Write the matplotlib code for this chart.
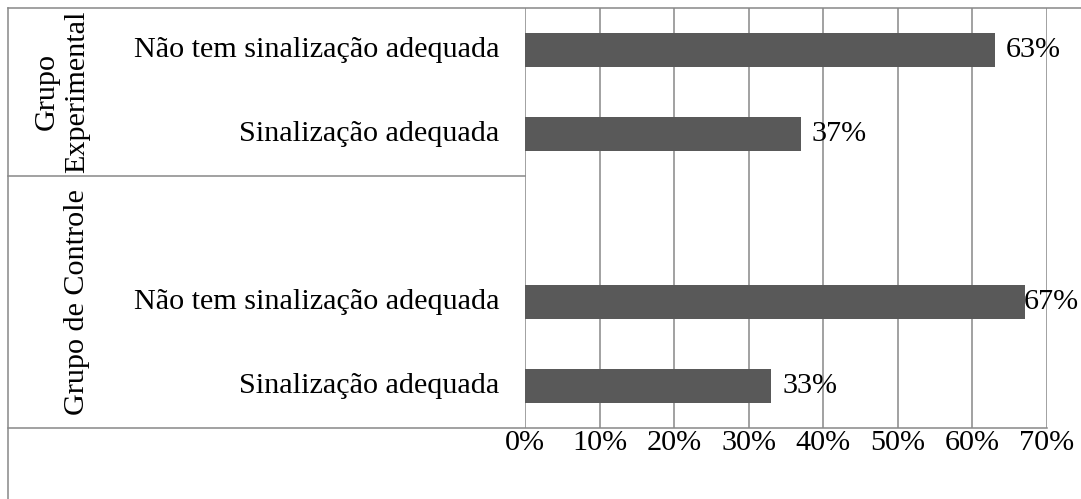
import matplotlib
matplotlib.use("Agg")
import matplotlib.pyplot as plt
from matplotlib.lines import Line2D

plt.rcParams['font.family'] = ['Liberation Serif', 'DejaVu Serif']

groups = ["Grupo\nExperimental", "Grupo de Controle"]
categories = ["Não tem sinalização adequada", "Sinalização adequada", "",
              "Não tem sinalização adequada", "Sinalização adequada"]
values = [0.63, 0.37, None, 0.67, 0.33]
value_labels = ["63%", "37%", "", "67%", "33%"]
xticks = [0, 0.1, 0.2, 0.3, 0.4, 0.5, 0.6, 0.7]
xtick_labels = ["0%", "10%", "20%", "30%", "40%", "50%", "60%", "70%"]

W, H = 1081, 499
DPI = 100
fig = plt.figure(figsize=(W / DPI, H / DPI), dpi=DPI)
fig.patch.set_facecolor("white")

GRID = "#888888"
BAR = "#595959"
FS = 21.7

# plot area in pixels
x0, x1 = 525, 1047
y_top, y_bot = 8, 428
ax = fig.add_axes([x0 / W, 1 - y_bot / H, (x1 - x0) / W, (y_bot - y_top) / H])
ax.set_xlim(0, 0.7)
ax.set_ylim(len(categories) - 0.5, -0.5)
for s in ax.spines.values():
    s.set_visible(False)
ax.set_xticks(xticks)
ax.set_xticklabels([])
ax.tick_params(axis="both", length=0)
ax.set_yticks([])
for t in xticks:
    ax.axvline(t, color=GRID, lw=1.1, zorder=0)

pos = [i for i, v in enumerate(values) if v is not None]
vals = [values[i] for i in pos]
ax.barh(pos, vals, height=0.4, color=BAR, zorder=2)

def px(x, y):
    return (x / W, 1 - y / H)

fig.canvas.draw()
renderer = fig.canvas.get_renderer()
# data labels
for i in pos:
    v = values[i]
    t = ax.annotate(value_labels[i], xy=(v, i), xytext=(11, 0), textcoords="offset pixels",
                    ha="left", va="center", fontsize=FS, color="black", zorder=3,
                    annotation_clip=False)
    bb = t.get_window_extent(renderer)
    if bb.x1 > W - 2:
        t.set_position((11 - (bb.x1 - (W - 2)), 0))

# tick labels below
for t, lab in zip(xticks, xtick_labels):
    ax.annotate(lab, xy=(t, 1), xycoords=("data", "axes fraction"),
                xytext=(0, -(443 - y_top)), textcoords="offset pixels",
                ha="center", va="center", fontsize=FS, annotation_clip=False)

# category labels
for i, c in enumerate(categories):
    if c:
        ax.annotate(c, xy=(0, i), xytext=(-26, 0), textcoords="offset pixels",
                    ha="right", va="center", fontsize=FS, annotation_clip=False)

# frame / divider lines (figure pixels)
def line(xa, ya, xb, yb):
    fig.add_artist(Line2D([xa / W, xb / W], [1 - ya / H, 1 - yb / H],
                          transform=fig.transFigure, color=GRID, lw=1.1))

line(8, 7.5, W, 7.5)
line(8, 7.5, 8, H)
line(8, 176, x0, 176)
line(8, y_bot, x1, y_bot)

# group labels
fig.text(*px(62, 92), groups[0], rotation=90, ha="center", va="center",
         fontsize=FS, linespacing=1.2, multialignment="center")
fig.text(*px(77, 302), groups[1], rotation=90, ha="center", va="center",
         fontsize=FS)

fig.savefig("out.png", dpi=DPI)
